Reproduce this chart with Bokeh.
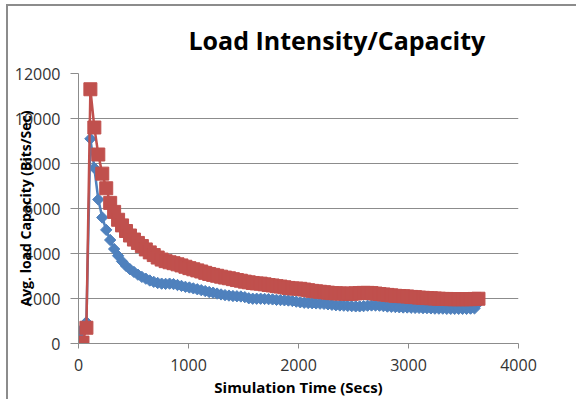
import math
from bokeh.plotting import figure
from bokeh.models import Range1d, FixedTicker
from bokeh.embed import file_html
from bokeh.resources import INLINE

# Simulation time samples (seconds)
time_secs = list(range(0, 3637, 36))

# Red series (squares)
red_vals = [30, 40, 700, 11300, 9600, 8400, 7550, 6900, 6250, 5850,
            5500, 5250, 5000, 4800, 4620, 4470, 4330, 4180, 4050, 3930,
            3820, 3730, 3660, 3610, 3570, 3520, 3470, 3410, 3350, 3300,
            3250, 3200, 3140, 3090, 3050, 3010, 2970, 2930, 2900, 2860,
            2820, 2790, 2750, 2720, 2690, 2670, 2660, 2630, 2600, 2580,
            2550, 2530, 2500, 2470, 2450, 2440, 2430, 2400, 2370, 2340,
            2320, 2300, 2280, 2260, 2240, 2230, 2220, 2220, 2210, 2210,
            2230, 2240, 2250, 2250, 2240, 2220, 2200, 2180, 2160, 2140,
            2120, 2110, 2100, 2090, 2070, 2060, 2040, 2030, 2020, 2010,
            2000, 1990, 1980, 1980, 1970, 1970, 1970, 1970, 1970, 1970,
            1980, 1990]

# Blue series (diamonds)
blue_vals = [350, 650, 950, 9100, 7800, 6400, 5600, 5050, 4600, 4200,
             3900, 3650, 3450, 3300, 3180, 3060, 2960, 2880, 2800, 2740,
             2690, 2660, 2650, 2660, 2640, 2600, 2560, 2520, 2490, 2450,
             2410, 2370, 2330, 2290, 2260, 2220, 2180, 2150, 2130, 2110,
             2100, 2090, 2060, 2010, 1990, 1990, 1990, 1980, 1970, 1960,
             1940, 1930, 1920, 1910, 1890, 1860, 1830, 1810, 1800, 1790,
             1780, 1770, 1760, 1740, 1720, 1700, 1690, 1680, 1670, 1660,
             1650, 1650, 1660, 1680, 1690, 1690, 1680, 1660, 1640, 1630,
             1620, 1610, 1600, 1600, 1590, 1580, 1580, 1570, 1570, 1560,
             1550, 1550, 1550, 1540, 1540, 1540, 1540, 1540, 1540, 1550,
             1560, 1800]

x_ticks = [0, 1000, 2000, 3000, 4000]
y_ticks = [0, 2000, 4000, 6000, 8000, 10000, 12000]

RED = "#C0504D"
BLUE = "#4F81BD"
GRID = "#8C8C8C"
FONT = "Open Sans"

p = figure(width=570, height=395, output_backend="svg", toolbar_location=None,
           x_range=Range1d(0, 4000), y_range=Range1d(0, 12000),
           min_border_left=70, min_border_right=60, min_border_top=67,
           min_border_bottom=58, title="Load Intensity/Capacity")
p.styles = {"margin-left": "8px", "margin-top": "6px",
            "box-shadow": "-2px -2px 0 0 #8c8c8c"}
p.outline_line_color = None
p.background_fill_color = "white"
p.border_fill_color = "white"

p.title.text_font = FONT
p.title.text_font_size = "25px"
p.title.text_font_style = "bold"
p.title.text_color = "black"
p.title.align = "left"
p.title.offset = 110
p.title.vertical_align = "top"
p.title.standoff = 30

# grid
p.xgrid.grid_line_color = None
p.ygrid.grid_line_color = GRID
p.ygrid.grid_line_width = 1
p.ygrid.ticker = FixedTicker(ticks=y_ticks)

# axes
p.xaxis.ticker = FixedTicker(ticks=x_ticks)
p.yaxis.ticker = FixedTicker(ticks=y_ticks)
for ax in (p.xaxis[0], p.yaxis[0]):
    ax.axis_line_color = GRID
    ax.major_tick_line_color = GRID
    ax.minor_tick_line_color = None
    ax.major_tick_in = 0
    ax.major_label_text_font = FONT
    ax.major_label_text_font_size = "16px"
    ax.major_label_text_color = "#333333"
    ax.axis_label_text_font = FONT
    ax.axis_label_text_font_style = "bold"
    ax.axis_label_text_color = "black"

p.xaxis.major_tick_out = 5
p.xaxis.major_label_standoff = 10
p.xaxis.axis_label = "Simulation Time (Secs)"
p.xaxis.axis_label_text_font_size = "15px"
p.xaxis.axis_label_standoff = 3

p.yaxis.major_tick_out = 8
p.yaxis.major_label_standoff = 10
p.yaxis.axis_label = "Avg. load Capacity (Bits/Sec)"
p.yaxis.axis_label_text_font_size = "14px"
p.yaxis.axis_label_standoff = -23

# blue series
p.line(time_secs, blue_vals, line_color=BLUE, line_width=2.5)
p.scatter(time_secs, blue_vals, marker="square", size=8, angle=math.pi / 4,
          fill_color=BLUE, line_color=BLUE, line_width=1)

# red series
p.line(time_secs, red_vals, line_color=RED, line_width=2.5)
p.scatter(time_secs, red_vals, marker="square", size=13,
          fill_color=RED, line_color=RED, line_width=1)

open("out.html", "w").write(file_html(p, INLINE))
